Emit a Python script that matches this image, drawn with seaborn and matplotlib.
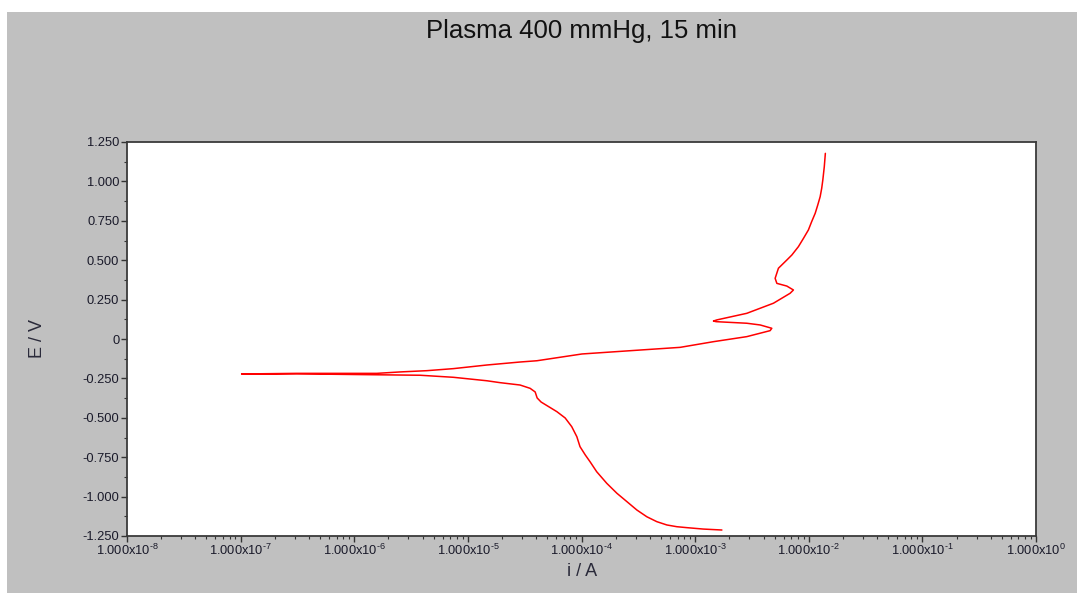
import numpy as np
import pandas as pd
import matplotlib
matplotlib.use("Agg")
import matplotlib.pyplot as plt
from matplotlib.patches import Rectangle
from matplotlib.ticker import FixedLocator, LogLocator, FuncFormatter, NullFormatter
import seaborn as sns

# Potentiodynamic polarization scan: cathodic branch (up to Ecorr) then anodic branch
cathodic_i = [1.72e-3, 1.18e-3, 8.45e-4, 6.90e-4, 5.64e-4, 4.60e-4, 3.76e-4, 3.07e-4,
              2.51e-4, 2.05e-4, 1.67e-4, 1.36e-4, 1.19e-4, 1.08e-4, 9.7e-5, 9.10e-5,
              8.2e-5, 7.18e-5, 6.07e-5, 4.41e-5, 4.07e-5, 3.91e-5, 3.53e-5, 2.88e-5,
              1.92e-5, 1.47e-5, 7.46e-6, 3.80e-6, 1.58e-6, 3.12e-7, 1.02e-7]
cathodic_E = [-1.212, -1.206, -1.197, -1.191, -1.180, -1.159, -1.128, -1.085,
              -1.032, -0.979, -0.916, -0.842, -0.779, -0.736, -0.683, -0.620,
              -0.556, -0.501, -0.461, -0.400, -0.374, -0.336, -0.313, -0.292,
              -0.277, -0.265, -0.243, -0.230, -0.227, -0.221, -0.222]

anodic_i = [3.12e-7, 1.58e-6, 2.53e-6, 4.35e-6, 7.46e-6, 1.47e-5, 2.88e-5, 4.05e-5,
            1.01e-4, 3.28e-4, 7.38e-4, 1.45e-3, 2.85e-3, 4.57e-3, 4.73e-3, 3.74e-3,
            2.85e-3, 1.53e-3, 1.45e-3, 1.55e-3, 2.85e-3, 4.89e-3, 6.85e-3, 7.33e-3,
            6.41e-3, 5.24e-3, 5.06e-3, 5.41e-3, 6.41e-3, 7.10e-3, 8.11e-3, 8.99e-3,
            9.93e-3, 1.06e-2, 1.14e-2, 1.20e-2, 1.26e-2, 1.30e-2, 1.33e-2, 1.37e-2,
            1.40e-2]
anodic_E = [-0.218, -0.218, -0.209, -0.201, -0.188, -0.165, -0.146, -0.138,
            -0.095, -0.070, -0.053, -0.017, 0.015, 0.053, 0.068, 0.089,
            0.100, 0.110, 0.114, 0.121, 0.163, 0.227, 0.290, 0.311,
            0.336, 0.353, 0.385, 0.449, 0.501, 0.533, 0.586, 0.639,
            0.692, 0.744, 0.798, 0.850, 0.903, 0.956, 1.009, 1.093,
            1.178]

y_ticks = [-1.25, -1.0, -0.75, -0.5, -0.25, 0.0, 0.25, 0.5, 0.75, 1.0, 1.25]
x_decades = [-8, -7, -6, -5, -4, -3, -2, -1, 0]

title = "Plasma 400 mmHg, 15 min"

df = pd.DataFrame({
    "i": cathodic_i + anodic_i,
    "E": cathodic_E + anodic_E,
})

sns.set_theme(style="white")
plt.rcParams["font.family"] = ["Liberation Sans", "DejaVu Sans"]
plt.rcParams["mathtext.fontset"] = "custom"
plt.rcParams["mathtext.rm"] = "Liberation Sans"
plt.rcParams["mathtext.it"] = "Liberation Sans:italic"
plt.rcParams["mathtext.bf"] = "Liberation Sans:bold"
plt.rcParams["axes.unicode_minus"] = False

W, H = 1077, 593
fig = plt.figure(figsize=(W / 100, H / 100), dpi=100, facecolor="white")

# grey panel behind the chart
fig.add_artist(Rectangle((7 / W, 0), 1 - 7 / W, 1 - 12 / H, transform=fig.transFigure,
                         facecolor="#c0c0c0", edgecolor="none", zorder=-10))

ax = fig.add_axes([127 / W, 1 - 536 / H, (1036 - 127) / W, (536 - 142) / H])
ax.set_facecolor("white")

sns.lineplot(data=df, x="i", y="E", sort=False, estimator=None, color="#ff0000",
             linewidth=1.1, ax=ax, legend=False)

ax.set_xscale("log")
ax.set_xlim(10.0 ** x_decades[0], 10.0 ** x_decades[-1])
ax.set_ylim(y_ticks[0], y_ticks[-1])


def decade_label(v, pos):
    exp = int(round(np.log10(v)))
    return r"1.000x10$^{\text{%d}}$" % exp


ax.xaxis.set_major_locator(FixedLocator([10.0 ** d for d in x_decades]))
ax.xaxis.set_minor_locator(LogLocator(base=10, subs=np.arange(2, 10), numticks=50))
ax.xaxis.set_minor_formatter(NullFormatter())
ax.xaxis.set_major_formatter(FuncFormatter(decade_label))

ax.yaxis.set_major_locator(FixedLocator(y_ticks))
ax.yaxis.set_minor_locator(FixedLocator(np.arange(-1.125, 1.25, 0.25)))
ax.yaxis.set_major_formatter(FuncFormatter(
    lambda v, p: "0" if abs(v) < 1e-9 else "%.3f" % v))

ax.tick_params(axis="both", which="both", bottom=True, left=True, top=False, right=False)
ax.tick_params(axis="both", which="major", direction="out", length=4, width=1,
               color="#333333", labelsize=9.3, labelcolor="#1a1a2a", pad=1.5)
ax.tick_params(axis="both", which="minor", direction="out", length=2.5, width=0.8,
               color="#333333")
ax.tick_params(axis="x", which="major", pad=1)

for s in ax.spines.values():
    s.set_color("#3a3a3a")
    s.set_linewidth(1.3)

ax.set_xlabel("")
ax.set_ylabel("")
fig.text(582 / W, 1 - 572 / H, "i / A", ha="center", va="center", fontsize=13,
         color="#2a2a3a")
fig.text(38 / W, 1 - 339 / H, "E / V", ha="center", va="center", rotation=90,
         fontsize=13, color="#2a2a3a")
fig.text(582 / W, 1 - 31 / H, title, ha="center", va="center", fontsize=18.5,
         color="#111111")

fig.savefig("out.png", dpi=100, facecolor=fig.get_facecolor())
